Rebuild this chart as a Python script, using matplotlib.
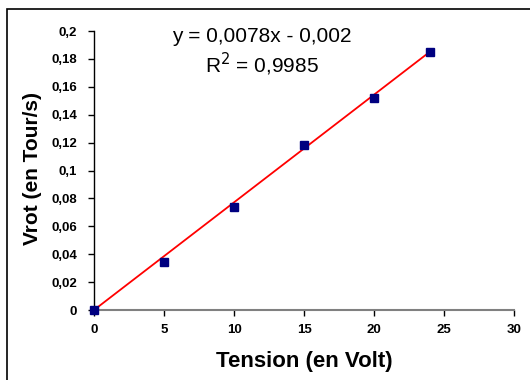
import numpy as np
import matplotlib
matplotlib.use('Agg')
import matplotlib.pyplot as plt
from matplotlib.patches import Rectangle
from matplotlib.ticker import MultipleLocator, FuncFormatter

# donnees mesurees
tension = [0, 5, 10, 15, 20, 24]
vrot = [0.0, 0.0345, 0.0735, 0.1185, 0.152, 0.185]

# droite de tendance affichee
pente = 0.0078
ordonnee = -0.002
r2 = 0.9985

plt.rc('font', family=['Liberation Sans', 'DejaVu Sans'])

fig = plt.figure(figsize=(5.3, 3.8), dpi=100)
ax = fig.add_axes([0.1774, 0.1842, 0.7924, 0.7342])

# cadre du graphique (seuls les bords gauche et haut sont visibles)
fig.patches.append(Rectangle((7 / 530, -0.1), 1.2, 1.076, transform=fig.transFigure,
                             fill=False, edgecolor='black', linewidth=1.2))

x_fit = np.array([0, max(tension)])
y_fit = pente * x_fit + ordonnee
y_fit = np.clip(y_fit, 0, None)
ax.plot(x_fit, y_fit, color='#ff0000', linewidth=1.3, zorder=2, clip_on=False)
ax.plot(tension, vrot, linestyle='none', marker='s', markersize=6,
        color='#000080', zorder=3, clip_on=False)

ax.set_xlim(0, 30)
ax.set_ylim(0, 0.2)
ax.xaxis.set_major_locator(MultipleLocator(5))
ax.yaxis.set_major_locator(MultipleLocator(0.02))


def fmt(v, pos):
    s = ('%.2f' % v).rstrip('0').rstrip('.')
    return s.replace('.', ',')


ax.yaxis.set_major_formatter(FuncFormatter(fmt))

for side in ['top', 'right']:
    ax.spines[side].set_visible(False)
ax.spines['bottom'].set_color('#808080')
ax.spines['bottom'].set_linewidth(1.5)
ax.spines['left'].set_color('black')
ax.spines['left'].set_linewidth(1.0)

ax.tick_params(axis='x', direction='out', length=4, width=1, color='black',
               labelsize=9.5, pad=6)
ax.tick_params(axis='y', direction='out', length=4, width=1, color='black',
               labelsize=9.5, pad=8)
for lab in ax.get_xticklabels() + ax.get_yticklabels():
    lab.set_fontweight('bold')

# titres des axes
fig.text(304 / 530, 1 - 361 / 380, 'Tension (en Volt)', fontsize=16, fontweight='bold',
         ha='center', va='center')
fig.text(33 / 530, 1 - 168 / 380, 'Vrot (en Tour/s)', fontsize=15, fontweight='bold',
         rotation=90, ha='center', va='center')

eq = 'y = %sx - %s' % (str(pente).replace('.', ','), str(abs(ordonnee)).replace('.', ','))
fig.text(262 / 530, 1 - 37 / 380, eq, fontsize=15, ha='center', va='center')
fig.text(262 / 530, 1 - 64 / 380, 'R$^2$ = %s' % str(r2).replace('.', ','),
         fontsize=15, ha='center', va='center')

fig.savefig('out.png', dpi=100)
